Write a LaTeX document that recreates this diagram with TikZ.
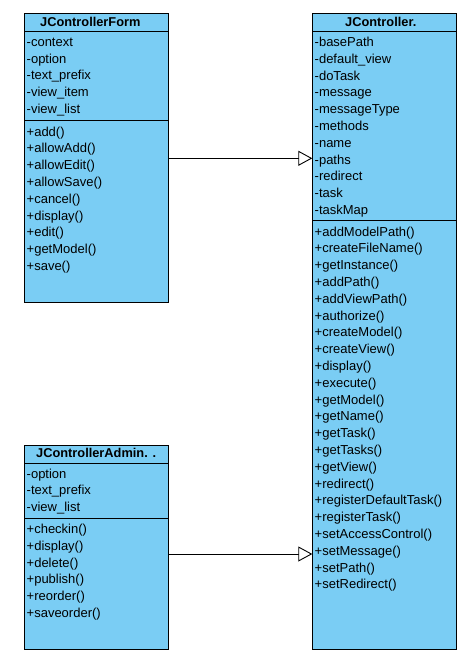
\documentclass[tikz,border=0pt]{standalone}
\usepackage{fontspec}
\setmainfont{Liberation Sans}
\usetikzlibrary{arrows.meta}
\definecolor{umlblue}{RGB}{122,205,244}
\tikzset{
  classbox/.style={draw=black, line width=1pt, fill=umlblue, rectangle, inner sep=0pt, anchor=north west},
  divider/.style={draw=black, line width=0.9pt},
  txt/.style={anchor=base west, inner sep=0pt, font=\fontsize{13}{15}\selectfont},
  ttl/.style={anchor=base west, inner sep=0pt, font=\fontsize{12.8}{15}\selectfont\bfseries},
  gen/.style={draw=black, line width=0.9pt, -{Triangle[open, length=14pt, width=15pt, fill=white]}}
}
\begin{document}
\begin{tikzpicture}[x=1pt, y=-1pt]
\useasboundingbox (0,0) rectangle (474,656);
% boxes
\node[classbox, minimum width=144pt, minimum height=288.4pt] (form) at (24.3,13.3) {};
\node[classbox, minimum width=143.7pt, minimum height=636pt] (ctrl) at (312.3,13.3) {};
\node[classbox, minimum width=144pt, minimum height=204.3pt] (admin) at (24.3,445) {};
% dividers
\draw[divider] (form.west |- 0,31.7) -- (form.east |- 0,31.7);
\draw[divider] (form.west |- 0,120.7) -- (form.east |- 0,120.7);
\draw[divider] (ctrl.west |- 0,31.7) -- (ctrl.east |- 0,31.7);
\draw[divider] (ctrl.west |- 0,220) -- (ctrl.east |- 0,220);
\draw[divider] (admin.west |- 0,463.3) -- (admin.east |- 0,463.3);
\draw[divider] (admin.west |- 0,518.3) -- (admin.east |- 0,518.3);
% titles
\node[ttl] (formtitle) at (40,26.2) {JControllerForm};
\node[ttl] (ctrltitle) at (345,26.2) {JController.};
\node[ttl] (admintitle) at (36,457.8) {JControllerAdmin. .};
% JControllerForm
\foreach \t [count=\i] in {-context,-option,-text\_prefix,-view\_item,-view\_list}
  \node[txt] (fa\i) at ({26.5},{46.5+16.7*(\i-1)}) {\t};
\foreach \t [count=\i] in {+add(),+allowAdd(),+allowEdit(),+allowSave(),+cancel(),+display(),+edit(),+getModel(),+save()}
  \node[txt] (fm\i) at ({26.5},{136.1+16.8*(\i-1)}) {\t};
% JController
\foreach \t [count=\i] in {-basePath,-default\_view,-doTask,-message,-messageType,-methods,-name,-paths,-redirect,-task,-taskMap}
  \node[txt] (ca\i) at ({314.5},{46.5+16.8*(\i-1)}) {\t};
\foreach \t [count=\i] in {+addModelPath(),+createFileName(),+getInstance(),+addPath(),+addViewPath(),+authorize(),+createModel(),+createView(),+display(),+execute(),+getModel(),+getName(),+getTask(),+getTasks(),+getView(),+redirect(),+registerDefaultTask(),+registerTask(),+setAccessControl(),+setMessage(),+setPath(),+setRedirect()}
  \node[txt] (cm\i) at ({314.5},{236.1+16.8*(\i-1)}) {\t};
% JControllerAdmin
\foreach \t [count=\i] in {-option,-text\_prefix,-view\_list}
  \node[txt] (aa\i) at ({26.5},{478.1+16.7*(\i-1)}) {\t};
\foreach \t [count=\i] in {+checkin(),+display(),+delete(),+publish(),+reorder(),+saveorder()}
  \node[txt] (am\i) at ({26.5},{533.8+16.7*(\i-1)}) {\t};
% generalizations
\draw[gen] (form.east |- 0,158.3) -- (ctrl.west |- 0,158.3);
\draw[gen] (admin.east |- 0,554) -- (ctrl.west |- 0,554);
\end{tikzpicture}
\end{document}
